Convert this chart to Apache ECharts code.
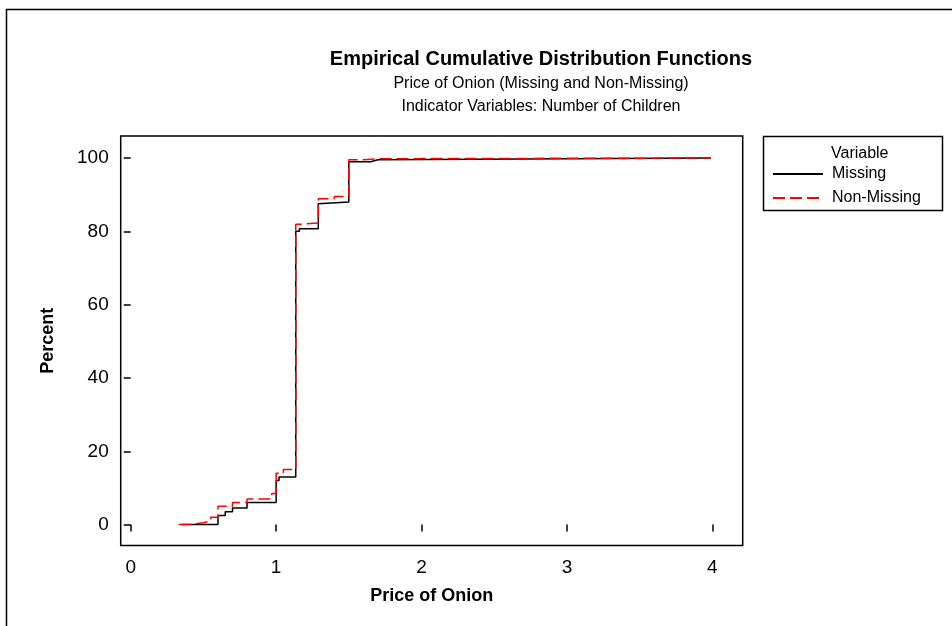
<!DOCTYPE html>
<html><head><meta charset="utf-8">
<script src="https://cdn.jsdelivr.net/npm/echarts@6/dist/echarts.min.js"></script>
<style>html,body{margin:0;padding:0;background:#fff}#c{width:952px;height:626px}</style>
</head><body><div id="c"></div>
<script>
const titleMain = 'Empirical Cumulative Distribution Functions';
const titleSub1 = 'Price of Onion (Missing and Non-Missing)';
const titleSub2 = 'Indicator Variables: Number of Children';
const xAxisName = 'Price of Onion';
const yAxisName = 'Percent';
const legendTitle = 'Variable';
const seriesNames = ['Missing', 'Non-Missing'];
const xTicks = [0, 1, 2, 3, 4];
const yTicks = [0, 20, 40, 60, 80, 100];

const missingX = [0.35, 0.60, 0.65, 0.70, 0.80, 1.00, 1.02, 1.135, 1.16, 1.29, 1.30, 1.50, 1.65, 1.70, 3.99];
const missingY = [0, 2.5, 3.5, 4.5, 6, 12, 13, 80, 80.7, 87.5, 88, 99, 99.5, 100, 100];
const nonMissingX = [0.33, 0.40, 0.50, 0.55, 0.60, 0.70, 0.80, 0.97, 1.00, 1.05, 1.135, 1.16, 1.29, 1.40, 1.50, 1.60, 1.70, 3.99];
const nonMissingY = [0, 0.5, 1, 2, 5, 6, 7, 8.5, 14, 15, 81.9, 82.3, 88.9, 89.5, 99.5, 99.8, 100, 100];

const zip = (xs, ys) => xs.map((x, i) => [x, ys[i]]);
const FONT = 'Liberation Sans, Arial, sans-serif';

const chart = echarts.init(document.getElementById('c'), null, {renderer: 'canvas'});
chart.setOption({
  animation: false,
  backgroundColor: '#fff',
  textStyle: {fontFamily: FONT, color: '#000'},
  grid: {left: 120.7, right: 209.3, top: 136, bottom: 80.5, show: true, borderColor: '#000', borderWidth: 1.5, backgroundColor: 'transparent'},
  xAxis: {
    type: 'value', min: -0.069, max: 4.209,
    name: xAxisName, nameLocation: 'middle', nameGap: 42,
    nameTextStyle: {fontFamily: FONT, fontSize: 18, fontWeight: 'bold', color: '#000'},
    axisLine: {show: false},
    splitLine: {show: false},
    axisTick: {show: true, customValues: xTicks, length: 7, lineStyle: {color: '#000', width: 1.5}},
    axisLabel: {customValues: xTicks, fontFamily: FONT, fontSize: 19, color: '#000', margin: 13}
  },
  yAxis: {
    type: 'value', min: -5.7, max: 106,
    name: yAxisName, nameLocation: 'middle', nameGap: 64, nameRotate: 90,
    nameTextStyle: {fontFamily: FONT, fontSize: 18, fontWeight: 'bold', color: '#000'},
    axisLine: {show: false},
    splitLine: {show: false},
    axisTick: {show: true, customValues: yTicks, length: 7, lineStyle: {color: '#000', width: 1.5}},
    axisLabel: {customValues: yTicks, fontFamily: FONT, fontSize: 19, color: '#000', margin: 12}
  },
  legend: {
    orient: 'vertical', left: 772, top: 166, itemWidth: 50, itemHeight: 14, itemGap: 8,
    padding: 0,
    itemStyle: {opacity: 0},
    textStyle: {fontFamily: FONT, fontSize: 16, color: '#000', padding: [0, 0, 0, 4]},
    data: seriesNames
  },
  graphic: [
    {type: 'polyline', silent: true, shape: {points: [[6.5, 626], [6.5, 9.5], [952, 9.5]]}, style: {stroke: '#000', lineWidth: 1.5, fill: null}},
    {type: 'text', silent: true, style: {text: titleMain, x: 541, y: 59, textAlign: 'center', textVerticalAlign: 'middle', font: 'bold 20px ' + FONT, fill: '#000'}},
    {type: 'text', silent: true, style: {text: titleSub1, x: 541, y: 84, textAlign: 'center', textVerticalAlign: 'middle', font: '16px ' + FONT, fill: '#000'}},
    {type: 'text', silent: true, style: {text: titleSub2, x: 541, y: 107, textAlign: 'center', textVerticalAlign: 'middle', font: '16px ' + FONT, fill: '#000'}},
    {type: 'rect', silent: true, shape: {x: 763.5, y: 136.5, width: 179, height: 74}, style: {stroke: '#000', lineWidth: 1.5, fill: null}},
    {type: 'text', silent: true, left: 831, top: 146, style: {text: legendTitle, font: '16px ' + FONT, fill: '#000'}}
  ],
  series: [
    {name: seriesNames[0], type: 'line', step: 'end', symbol: 'none', data: zip(missingX, missingY),
     lineStyle: {color: '#000', width: 1.5}, itemStyle: {color: '#000'}, z: 3},
    {name: seriesNames[1], type: 'line', step: 'end', symbol: 'none', data: zip(nonMissingX, nonMissingY),
     lineStyle: {color: '#ff0000', width: 1.5, type: [12, 5]}, itemStyle: {color: '#ff0000'}, z: 4}
  ]
});
</script></body></html>
